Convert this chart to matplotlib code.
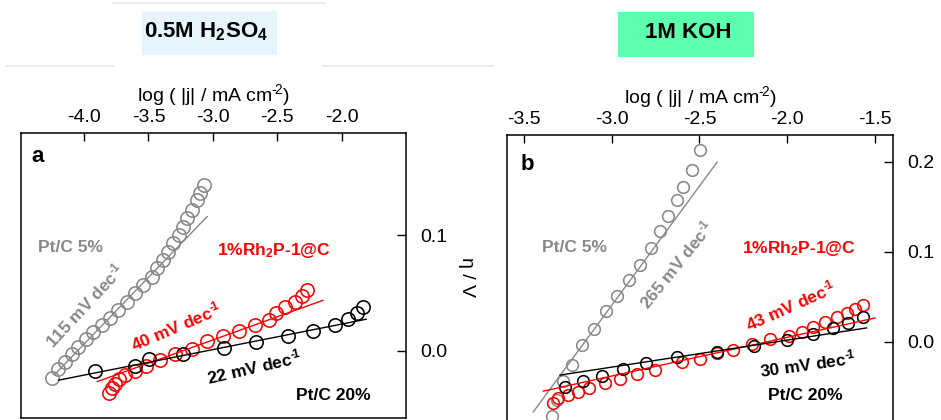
import matplotlib
matplotlib.use("Agg")
import matplotlib.pyplot as plt
import numpy as np
from matplotlib.lines import Line2D
from matplotlib.patches import Rectangle

plt.rcParams['font.family'] = ['Liberation Sans', 'DejaVu Sans']
plt.rcParams['mathtext.fontset'] = 'custom'
plt.rcParams['mathtext.rm'] = 'Liberation Sans'
plt.rcParams['mathtext.bf'] = 'Liberation Sans:bold'
plt.rcParams['mathtext.it'] = 'Liberation Sans:italic'
plt.rcParams['mathtext.default'] = 'regular'

# ---------------- panel a : 0.5 M H2SO4 ----------------
a_pt5_logj = [-4.250, -4.199, -4.147, -4.095, -4.044, -3.984, -3.928, -3.863, -3.798,
              -3.734, -3.669, -3.605, -3.540, -3.475, -3.437, -3.385, -3.346, -3.307,
              -3.261, -3.230, -3.199, -3.165, -3.126, -3.101, -3.070]
a_pt5_eta = [-0.0236, -0.0158, -0.0092, -0.0026, 0.0037, 0.0101, 0.0167, 0.0224, 0.0282,
             0.0353, 0.0425, 0.0503, 0.0569, 0.0641, 0.0713, 0.0784, 0.0856, 0.0928,
             0.1000, 0.1066, 0.1144, 0.1216, 0.1302, 0.1365, 0.1431]

a_rh_logj = [-3.804, -3.786, -3.760, -3.726, -3.682, -3.605, -3.519, -3.411, -3.295,
             -3.165, -3.049, -2.925, -2.796, -2.674, -2.563, -2.507, -2.442, -2.364,
             -2.305, -2.269]
a_rh_eta = [-0.0365, -0.0322, -0.0284, -0.0244, -0.0207, -0.0170, -0.0129, -0.0078, -0.0026,
            0.0014, 0.0085, 0.0129, 0.0175, 0.0224, 0.0270, 0.0330, 0.0376, 0.0425,
            0.0474, 0.0526]

a_pt20_logj = [-3.915, -3.605, -3.496, -3.230, -2.910, -2.664, -2.418, -2.220, -2.054,
               -1.948, -1.878, -1.832]
a_pt20_eta = [-0.0170, -0.0126, -0.0072, -0.0026, 0.0028, 0.0080, 0.0127, 0.0175, 0.0227,
              0.0275, 0.0325, 0.0379]

# Tafel fits: slope (V/dec), intercept (V), log j range
a_fit_slopes = [0.115, 0.040, 0.022]
a_fit_intercepts = [0.466, 0.1295, 0.0672]
a_fit_ranges = [(-4.225, -3.044), (-3.897, -2.145), (-4.199, -1.809)]
a_slope_labels = ['115 mV dec$^{\u2010\\!1}$', '40 mV dec$^{\u2010\\!1}$', '22 mV dec$^{\u2010\\!1}$']

# ---------------- panel b : 1 M KOH ----------------
b_pt5_logj = [-3.340, -3.312, -3.280, -3.228, -3.171, -3.100, -3.035, -2.970, -2.900,
              -2.839, -2.778, -2.725, -2.678, -2.630, -2.592, -2.545, -2.497]
b_pt5_eta = [-0.0822, -0.0644, -0.0430, -0.0256, -0.0033, 0.0141, 0.0340, 0.0508, 0.0689,
             0.0856, 0.1041, 0.1237, 0.1400, 0.1578, 0.1726, 0.1911, 0.2133]

b_rh_logj = [-3.337, -3.305, -3.247, -3.190, -3.128, -3.038, -2.953, -2.858, -2.754,
             -2.601, -2.497, -2.402, -2.307, -2.203, -2.098, -1.990, -1.918, -1.852,
             -1.785, -1.718, -1.661, -1.614, -1.570]
b_rh_eta = [-0.0674, -0.0626, -0.0589, -0.0552, -0.0515, -0.0459, -0.0415, -0.0356, -0.0311,
            -0.0225, -0.0185, -0.0119, -0.0085, -0.0018, 0.0030, 0.0065, 0.0115, 0.0170,
            0.0226, 0.0281, 0.0326, 0.0363, 0.0411]

b_pt20_logj = [-3.266, -3.164, -3.053, -2.934, -2.803, -2.628, -2.402, -2.189, -2.003,
               -1.855, -1.741, -1.652, -1.567]
b_pt20_eta = [-0.0500, -0.0430, -0.0376, -0.0304, -0.0234, -0.0170, -0.0107, -0.0044, 0.0022,
              0.0089, 0.0152, 0.0215, 0.0281]

b_fit_slopes = [0.265, 0.043, 0.030]
b_fit_intercepts = [0.8357, 0.0911, 0.0620]
b_fit_ranges = [(-3.447, -2.400), (-3.390, -1.500), (-3.295, -1.547)]
b_slope_labels = ['265 mV dec$^{\u2010\\!1}$', '43 mV dec$^{\u2010\\!1}$', '30 mV dec$^{\u2010\\!1}$']

series_names = ['Pt/C 5%', '1%Rh$_2$P-1@C', 'Pt/C 20%']
colors = ['#888888', '#ff0000', '#000000']
xticks_a = [-4.0, -3.5, -3.0, -2.5, -2.0]
xticks_b = [-3.5, -3.0, -2.5, -2.0, -1.5]
yticks_a = [0.0, 0.1]
yticks_b = [0.0, 0.1, 0.2]
xlabel = 'log ( |j| / mA cm$^{\u2010\\!2}$)'

W, H = 941, 420
fig = plt.figure(figsize=(W / 100, H / 100), dpi=100)


def px_axes(left, top, right, bottom):
    return fig.add_axes([left / W, 1 - bottom / H, (right - left) / W, (bottom - top) / H])


def style_axes(ax, xticks, yticks, ypad):
    ax.xaxis.tick_top()
    ax.yaxis.tick_right()
    ax.set_xticks(xticks)
    ax.set_xticklabels([f'{t:.1f}' for t in xticks])
    ax.set_yticks(yticks)
    ax.set_yticklabels([f'{t:.1f}' for t in yticks])
    ax.tick_params(axis='x', direction='in', length=5.5, width=1, labelsize=14, pad=5)
    ax.tick_params(axis='y', direction='in', length=6.5, width=1, labelsize=14, pad=ypad)
    for s in ax.spines.values():
        s.set_linewidth(1.1)
    ax.xaxis.set_label_position('top')


def draw_panel(ax, data, slopes, intercepts, ranges, msize):
    for (xs, ys), c in zip(data, colors):
        ax.plot(xs, ys, linestyle='none', marker='o', markersize=msize,
                markerfacecolor='none', markeredgecolor=c, markeredgewidth=1.15)
    for (k, b0, r), c in zip(zip(slopes, intercepts, ranges), colors):
        xx = np.array(r)
        ax.plot(xx, k * xx + b0, color=c, linewidth=1.0)


# panel a
ax_a = px_axes(21, 133, 406, 418)
ax_a.set_xlim(-4.49, -1.50)
ax_a.set_ylim(-0.0578, 0.188)
style_axes(ax_a, xticks_a, yticks_a, ypad=10.5)
draw_panel(ax_a, [(a_pt5_logj, a_pt5_eta), (a_rh_logj, a_rh_eta), (a_pt20_logj, a_pt20_eta)],
           a_fit_slopes, a_fit_intercepts, a_fit_ranges, 9.6)
ax_a.set_xlabel(xlabel, fontsize=14, labelpad=6)

# panel b
ax_b = px_axes(507, 135, 893, 440)
ax_b.set_xlim(-3.597, -1.397)
ax_b.set_ylim(-0.109, 0.23)
style_axes(ax_b, xticks_b, yticks_b, ypad=10)
draw_panel(ax_b, [(b_pt5_logj, b_pt5_eta), (b_rh_logj, b_rh_eta), (b_pt20_logj, b_pt20_eta)],
           b_fit_slopes, b_fit_intercepts, b_fit_ranges, 8.4)
ax_b.set_xlabel(xlabel, fontsize=14, labelpad=6)


def ftext(x, y, s, **kw):
    fig.text(x / W, 1 - y / H, s, **kw)


# right-hand η axis title of panel a
ftext(467, 277, 'η / V', rotation=270, ha='center', va='center', fontsize=14)

bold = dict(fontweight='bold', fontsize=12.5, ha='center', va='center')
# panel a annotations
ftext(38, 157, 'a', fontweight='bold', fontsize=16, ha='center', va='center')
ftext(71, 247, series_names[0], color=colors[0], **bold)
ftext(274, 250, series_names[1], color=colors[1], **bold)
ftext(333, 395, series_names[2], color=colors[2], **bold)
ftext(84, 306, a_slope_labels[0], color=colors[0], rotation=47, rotation_mode='anchor', **bold)
ftext(176, 326, a_slope_labels[1], color=colors[1], rotation=23, rotation_mode='anchor', **bold)
ftext(254, 367, a_slope_labels[2], color=colors[2], rotation=13, rotation_mode='anchor', **bold)

# panel b annotations
ftext(527, 165, 'b', fontweight='bold', fontsize=16, ha='center', va='center')
ftext(575, 247, series_names[0], color=colors[0], **bold)
ftext(799, 248, series_names[1], color=colors[1], **bold)
ftext(805, 395, series_names[2], color=colors[2], **bold)
ftext(676, 265, b_slope_labels[0], color=colors[0], rotation=51, rotation_mode='anchor', **bold)
ftext(790, 306, b_slope_labels[1], color=colors[1], rotation=24, rotation_mode='anchor', **bold)
ftext(808, 364, b_slope_labels[2], color=colors[2], rotation=8, rotation_mode='anchor', **bold)

# electrolyte headers
fig.add_artist(Rectangle((142 / W, 1 - 55 / H), 135 / W, 44 / H, transform=fig.transFigure,
                         facecolor='#e6f4fd', edgecolor='none', zorder=0))
ftext(206, 32, '0.5M H$_2$SO$_4$', fontweight='bold', fontsize=16, ha='center', va='center')
fig.add_artist(Rectangle((618 / W, 1 - 57 / H), 136 / W, 45 / H, transform=fig.transFigure,
                         facecolor='#5bffae', edgecolor='none', zorder=0))
ftext(688, 33, '1M KOH', fontweight='bold', fontsize=16, ha='center', va='center')

# faint separators
for x0, x1, y in [(6, 113, 66), (323, 470, 66), (470, 493, 66), (113, 325, 3)]:
    fig.add_artist(Line2D([x0 / W, x1 / W], [1 - y / H, 1 - y / H], transform=fig.transFigure,
                          color='#e8e8e8', linewidth=1.2))

fig.savefig('out.png', dpi=100)
